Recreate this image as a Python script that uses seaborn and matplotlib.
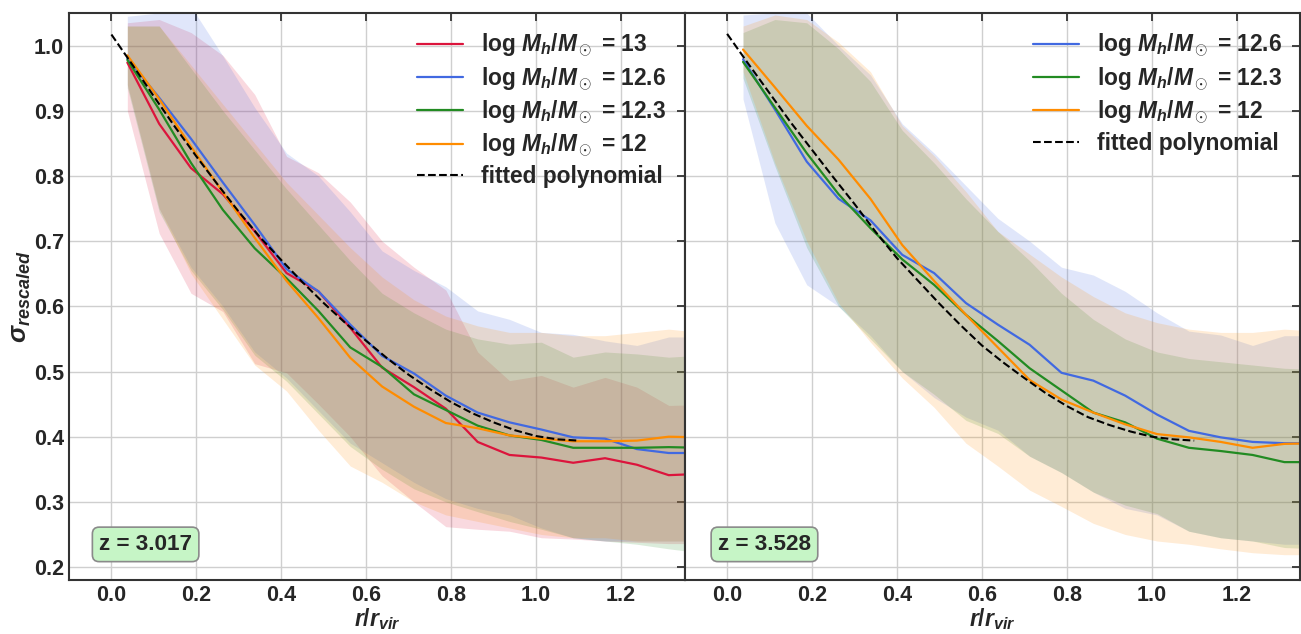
import matplotlib
matplotlib.use("Agg")
import matplotlib.pyplot as plt
import seaborn as sns

# radial bin centres (r / r_vir)
r_bins = [0.0375, 0.1125, 0.1875, 0.2625, 0.3375, 0.4125, 0.4875, 0.5625, 0.6375, 0.7125,
          0.7875, 0.8625, 0.9375, 1.0125, 1.0875, 1.1625, 1.2375, 1.3125, 1.3875]

# ---------------- z = 3.017 ----------------
z1_m13 = [0.974, 0.880, 0.812, 0.772, 0.715, 0.651, 0.623, 0.567, 0.506, 0.476,
          0.443, 0.392, 0.372, 0.368, 0.360, 0.367, 0.357, 0.341, 0.343]
z1_m13_lo = [0.900, 0.712, 0.620, 0.592, 0.512, 0.498, 0.450, 0.400, 0.340, 0.300,
             0.262, 0.258, 0.255, 0.245, 0.243, 0.240, 0.238, 0.236, 0.236]
z1_m13_hi = [1.035, 1.040, 1.020, 0.985, 0.925, 0.830, 0.805, 0.760, 0.700, 0.660,
             0.625, 0.530, 0.486, 0.494, 0.476, 0.491, 0.476, 0.448, 0.449]

z1_m126 = [0.980, 0.920, 0.857, 0.790, 0.725, 0.657, 0.623, 0.572, 0.524, 0.497,
           0.463, 0.437, 0.422, 0.411, 0.399, 0.397, 0.381, 0.375, 0.375]
z1_m126_lo = [0.940, 0.750, 0.660, 0.600, 0.530, 0.490, 0.440, 0.390, 0.360, 0.330,
              0.305, 0.290, 0.280, 0.260, 0.245, 0.240, 0.240, 0.240, 0.240]
z1_m126_hi = [1.045, 1.050, 1.060, 0.984, 0.905, 0.835, 0.800, 0.745, 0.685, 0.655,
              0.630, 0.593, 0.580, 0.560, 0.557, 0.547, 0.540, 0.553, 0.553]

z1_m123 = [0.978, 0.902, 0.820, 0.748, 0.689, 0.643, 0.593, 0.537, 0.507, 0.465,
           0.441, 0.417, 0.402, 0.395, 0.383, 0.383, 0.383, 0.384, 0.383]
z1_m123_lo = [0.935, 0.745, 0.655, 0.595, 0.525, 0.485, 0.435, 0.385, 0.350, 0.320,
              0.300, 0.285, 0.270, 0.258, 0.245, 0.240, 0.235, 0.228, 0.222]
z1_m123_hi = [1.030, 1.030, 0.965, 0.900, 0.840, 0.780, 0.725, 0.670, 0.620, 0.590,
              0.565, 0.550, 0.542, 0.545, 0.522, 0.530, 0.527, 0.522, 0.525]

z1_m12 = [0.985, 0.918, 0.845, 0.775, 0.705, 0.639, 0.582, 0.521, 0.477, 0.446,
          0.421, 0.413, 0.402, 0.397, 0.393, 0.393, 0.394, 0.400, 0.399]
z1_m12_lo = [0.940, 0.750, 0.650, 0.580, 0.510, 0.470, 0.410, 0.355, 0.330, 0.300,
             0.280, 0.270, 0.260, 0.250, 0.245, 0.245, 0.240, 0.240, 0.240]
z1_m12_hi = [1.030, 1.030, 0.970, 0.910, 0.850, 0.790, 0.740, 0.690, 0.645, 0.610,
             0.585, 0.570, 0.560, 0.560, 0.555, 0.555, 0.560, 0.565, 0.560]

# ---------------- z = 3.528 ----------------
z2_m126 = [0.979, 0.902, 0.822, 0.765, 0.732, 0.679, 0.651, 0.605, 0.572, 0.541,
           0.498, 0.486, 0.463, 0.434, 0.409, 0.399, 0.392, 0.390, 0.390]
z2_m126_lo = [0.918, 0.728, 0.633, 0.600, 0.555, 0.500, 0.460, 0.430, 0.410, 0.370,
              0.345, 0.315, 0.290, 0.280, 0.255, 0.245, 0.240, 0.235, 0.235]
z2_m126_hi = [1.047, 1.050, 1.050, 1.000, 0.955, 0.880, 0.835, 0.785, 0.735, 0.700,
              0.660, 0.648, 0.623, 0.590, 0.562, 0.556, 0.540, 0.555, 0.555]

z2_m123 = [0.975, 0.905, 0.835, 0.772, 0.720, 0.672, 0.633, 0.587, 0.547, 0.505,
           0.471, 0.437, 0.422, 0.397, 0.383, 0.378, 0.372, 0.361, 0.361]
z2_m123_lo = [0.950, 0.815, 0.690, 0.600, 0.550, 0.500, 0.465, 0.425, 0.405, 0.370,
              0.345, 0.315, 0.295, 0.282, 0.255, 0.245, 0.240, 0.230, 0.228]
z2_m123_hi = [1.020, 1.040, 1.035, 0.995, 0.945, 0.870, 0.820, 0.765, 0.715, 0.670,
              0.620, 0.580, 0.550, 0.530, 0.520, 0.515, 0.510, 0.505, 0.503]

z2_m12 = [0.994, 0.936, 0.877, 0.825, 0.765, 0.694, 0.639, 0.587, 0.537, 0.487,
          0.457, 0.437, 0.419, 0.404, 0.399, 0.392, 0.383, 0.389, 0.390]
z2_m12_lo = [0.960, 0.820, 0.700, 0.605, 0.545, 0.490, 0.445, 0.390, 0.355, 0.318,
             0.293, 0.267, 0.250, 0.240, 0.235, 0.228, 0.222, 0.219, 0.219]
z2_m12_hi = [1.030, 1.047, 1.040, 1.005, 0.960, 0.877, 0.831, 0.776, 0.715, 0.680,
             0.645, 0.615, 0.590, 0.575, 0.565, 0.560, 0.560, 0.565, 0.562]

# fitted polynomial, sampled on a fine radial grid
fit_r = [0.00, 0.05, 0.10, 0.15, 0.20, 0.25, 0.30, 0.35, 0.40, 0.45, 0.50, 0.55,
         0.60, 0.65, 0.70, 0.75, 0.80, 0.85, 0.90, 0.95, 1.00, 1.05, 1.10]
fit_z1 = [1.017, 0.970, 0.922, 0.875, 0.830, 0.787, 0.745, 0.706, 0.671, 0.637, 0.605, 0.575,
          0.547, 0.520, 0.495, 0.473, 0.453, 0.436, 0.422, 0.410, 0.401, 0.396, 0.394]
fit_z2 = [1.018, 0.972, 0.927, 0.882, 0.840, 0.798, 0.757, 0.714, 0.674, 0.639, 0.604, 0.571,
          0.540, 0.514, 0.490, 0.467, 0.447, 0.430, 0.418, 0.408, 0.400, 0.396, 0.394]

mass_labels = ["13", "12.6", "12.3", "12"]
colors = {"13": "crimson", "12.6": "royalblue", "12.3": "forestgreen", "12": "darkorange"}

panels = [
    {"z": "3.017",
     "series": {"13": (z1_m13, z1_m13_lo, z1_m13_hi),
                "12.6": (z1_m126, z1_m126_lo, z1_m126_hi),
                "12.3": (z1_m123, z1_m123_lo, z1_m123_hi),
                "12": (z1_m12, z1_m12_lo, z1_m12_hi)},
     "fit": fit_z1},
    {"z": "3.528",
     "series": {"12.6": (z2_m126, z2_m126_lo, z2_m126_hi),
                "12.3": (z2_m123, z2_m123_lo, z2_m123_hi),
                "12": (z2_m12, z2_m12_lo, z2_m12_hi)},
     "fit": fit_z2},
]

sns.set_theme(style="whitegrid")
plt.rcParams.update({
    "font.family": ["Liberation Sans", "DejaVu Sans"],
    "font.weight": "bold",
    "axes.labelweight": "bold",
    "mathtext.fontset": "custom",
    "mathtext.rm": "Liberation Sans:weight=bold",
    "mathtext.it": "Liberation Sans:style=italic:weight=bold",
    "mathtext.bf": "Liberation Sans:weight=bold",
    "mathtext.sf": "Liberation Sans:weight=bold",
    "axes.edgecolor": "#333333",
    "axes.linewidth": 1.5,
    "grid.color": "#cfcfcf",
    "grid.linewidth": 1.0,
    "text.color": "#262626",
})

fig, axes = plt.subplots(1, 2, figsize=(13.01, 6.34), dpi=100, sharey=True)
fig.subplots_adjust(left=0.053, right=0.9995, top=0.9795, bottom=0.085, wspace=0)

for ax, panel, box_x in zip(axes, panels, [0.049, 0.054]):
    for m in mass_labels:
        if m not in panel["series"]:
            continue
        mean, lo, hi = panel["series"][m]
        ax.fill_between(r_bins, lo, hi, color=colors[m], alpha=0.16, lw=0)
    for m in mass_labels:
        if m not in panel["series"]:
            continue
        mean = panel["series"][m][0]
        sns.lineplot(x=r_bins, y=mean, ax=ax, color=colors[m], lw=1.6,
                     label=rf"log $M_h/M_\odot$ = {m}")
    sns.lineplot(x=fit_r, y=panel["fit"], ax=ax, color="black", lw=1.5,
                 linestyle="--", label="fitted polynomial")

    ax.set_xlim(-0.1, 1.35)
    ax.set_ylim(0.18, 1.05)
    ax.set_xticks([0.0, 0.2, 0.4, 0.6, 0.8, 1.0, 1.2])
    ax.set_yticks([0.2, 0.3, 0.4, 0.5, 0.6, 0.7, 0.8, 0.9, 1.0])
    ax.tick_params(direction="in", top=True, right=True, length=6, width=1.3,
                   color="#333333", labelsize=15.5, labelcolor="#262626", pad=3.5)
    for lbl in ax.get_xticklabels() + ax.get_yticklabels():
        lbl.set_fontweight("bold")
    ax.set_xlabel(r"$r/r_{vir}$", fontsize=16.5, labelpad=0)

    leg = ax.legend(loc="upper right", frameon=False, fontsize=16.4,
                    handlelength=2.0, handletextpad=0.8, labelspacing=0.24,
                    borderaxespad=0.4)
    for t in leg.get_texts():
        t.set_fontweight("bold")

    ax.text(box_x, 0.063, f"z = {panel['z']}", transform=ax.transAxes,
            fontsize=16.2, fontweight="bold", ha="left", va="center",
            bbox=dict(boxstyle="round,pad=0.3", fc="#c6f5c6", ec="#8a8a8a", lw=1.2))

axes[0].set_ylabel(r"$\sigma_{rescaled}$", fontsize=18.5, labelpad=1)
axes[1].set_ylabel("")

fig.savefig("out.png", dpi=100)
